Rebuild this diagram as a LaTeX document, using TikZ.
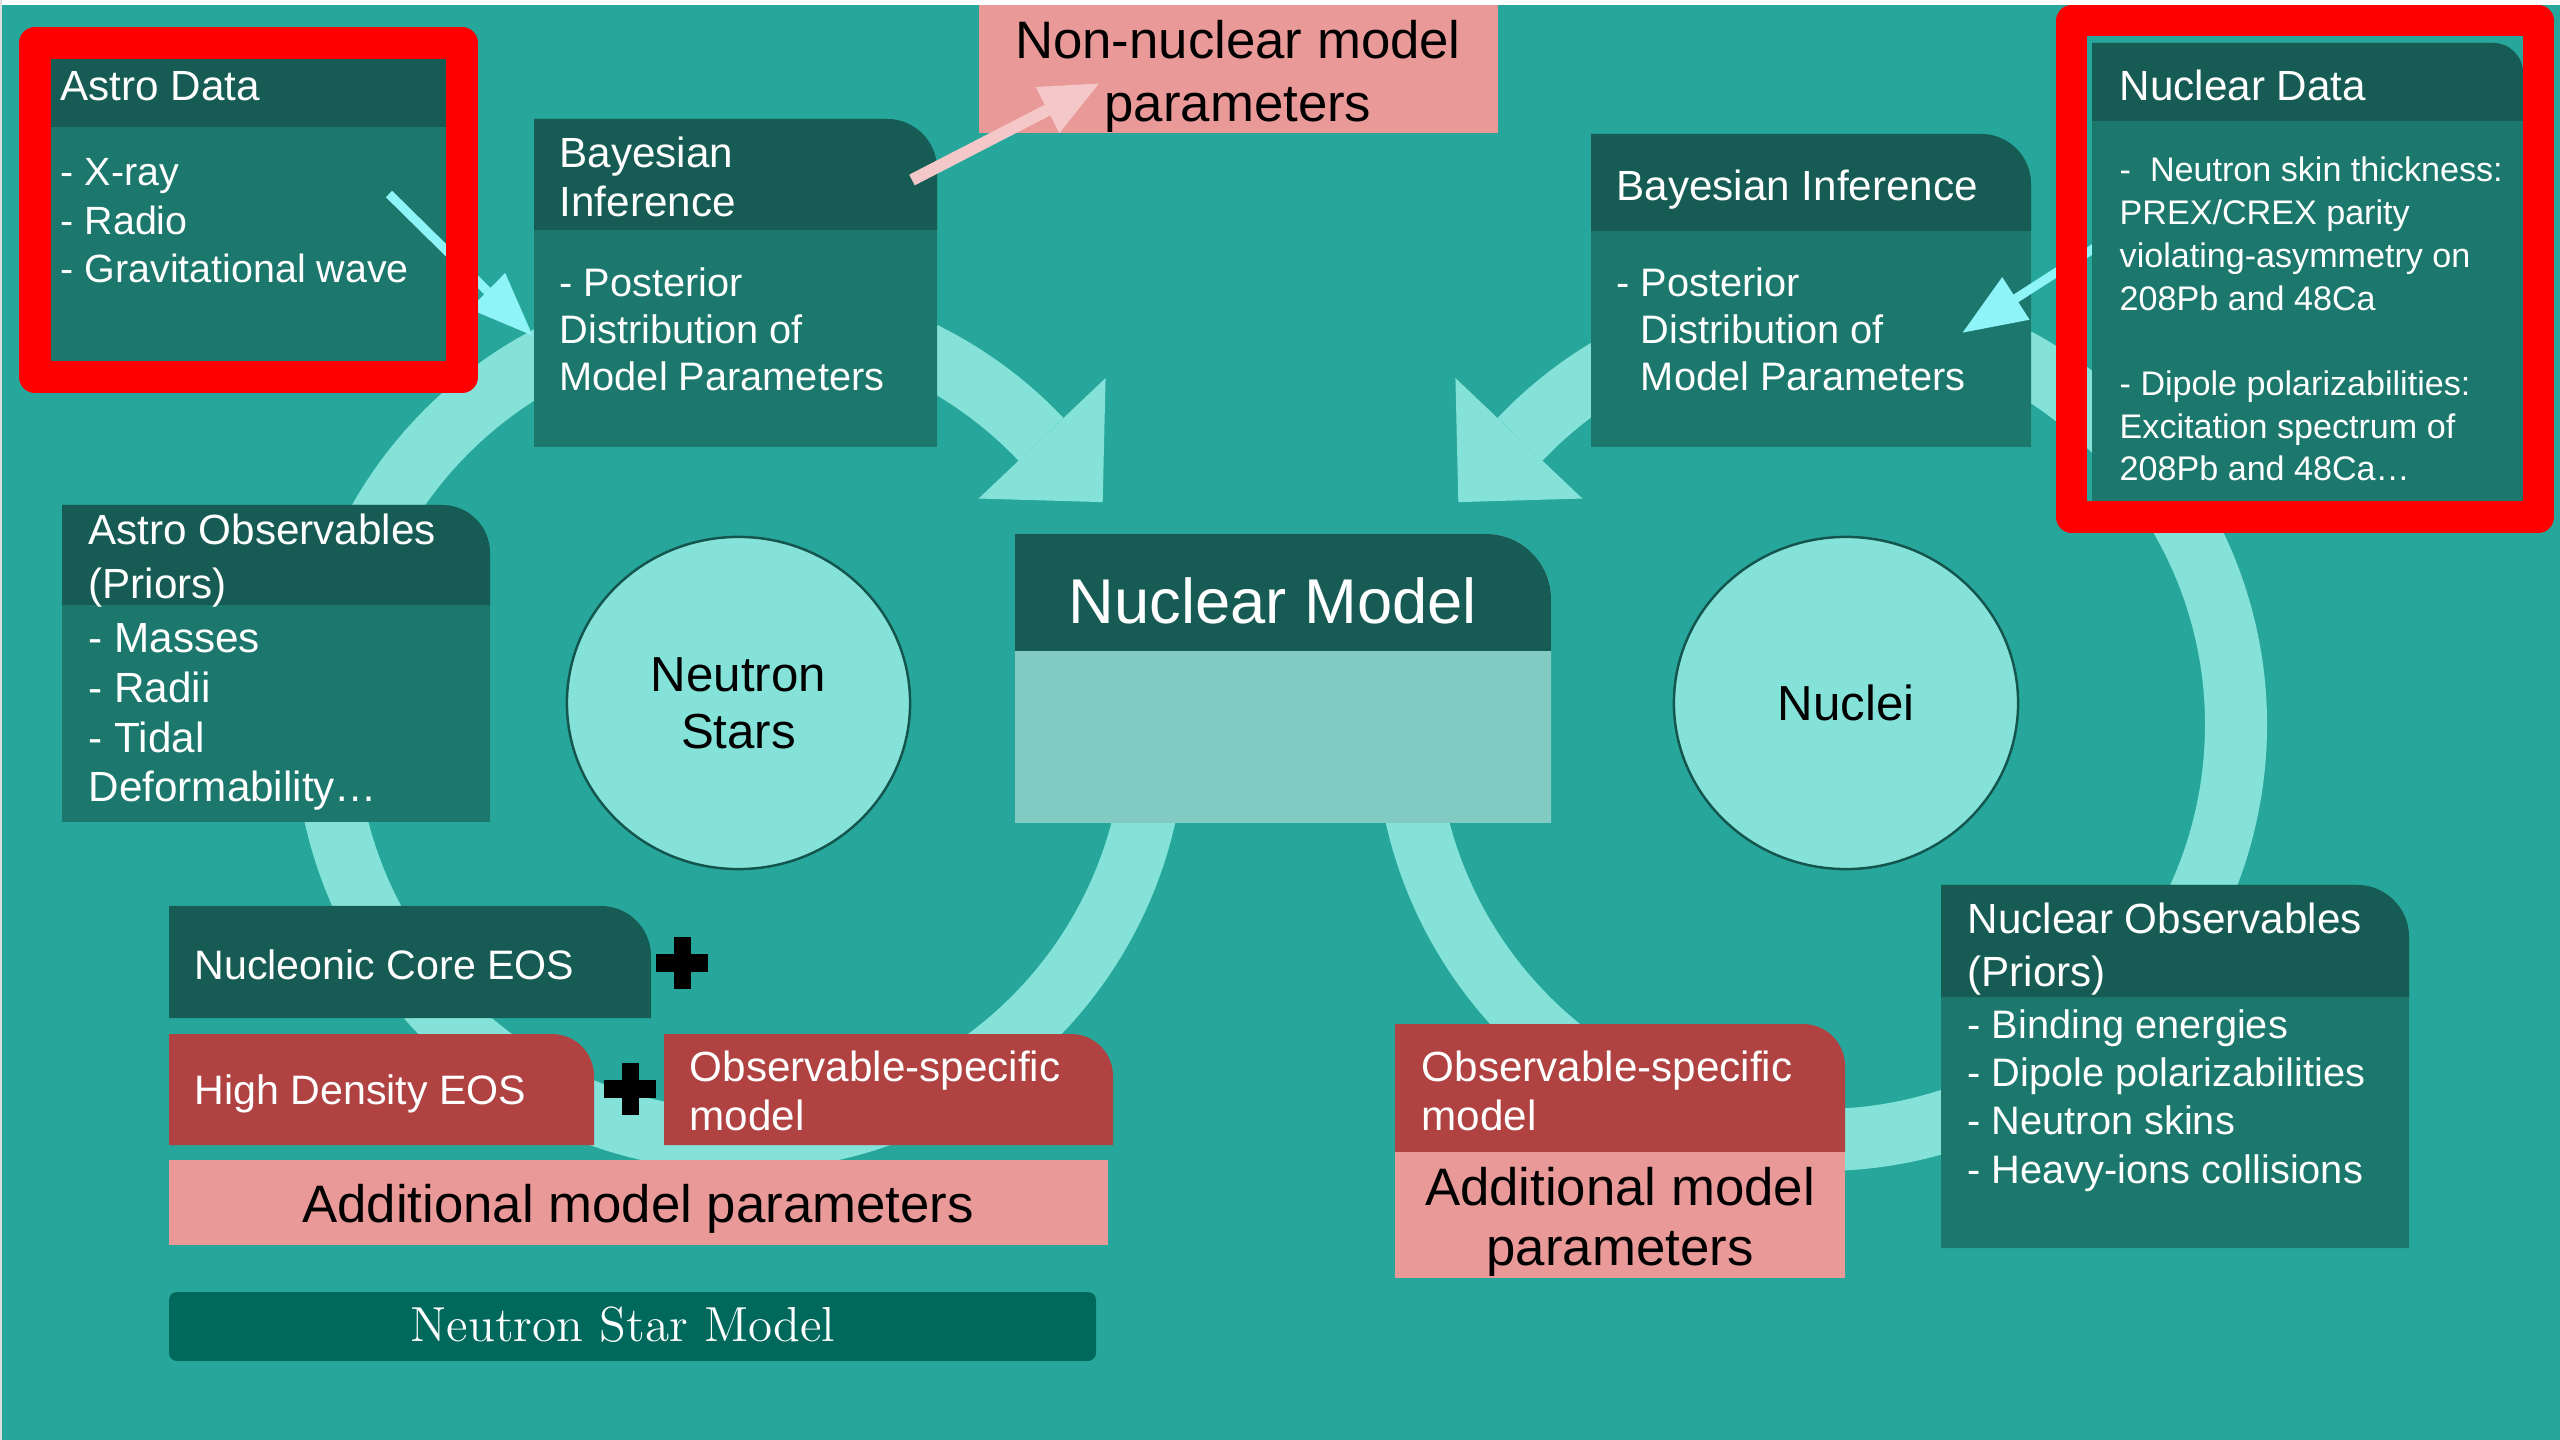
\documentclass[tikz,border=0pt]{standalone}
\usepackage{fontspec}
\newfontfamily\sansfont{Liberation Sans}
\usepackage{tikz}
\usetikzlibrary{shapes.geometric,calc,arrows.meta}

\definecolor{bgteal}{RGB}{39,167,155}
\definecolor{hdrc}{RGB}{23,92,84}
\definecolor{bodyc}{RGB}{28,120,109}
\definecolor{ringc}{RGB}{132,226,216}
\definecolor{nmbody}{RGB}{130,203,195}
\definecolor{pinkc}{RGB}{234,153,153}
\definecolor{redbox}{RGB}{176,66,66}
\definecolor{nsbar}{RGB}{0,105,92}
\definecolor{cyanarr}{RGB}{142,244,248}
\definecolor{pinkarr}{RGB}{244,200,200}
\definecolor{circb}{RGB}{20,85,78}

% font size and line skip (pt)
\newcommand{\fnt}[2]{\sansfont\fontsize{#1}{#2}\selectfont}
% box with one rounded corner (top right): x1,y1,x2,y2,radius,colour
\newcommand{\tabbox}[6]{%
  \fill[#6] (#1,#4) -- (#1,#2) [rounded corners=#5] -- (#3,#2) [sharp corners] -- (#3,#4) -- cycle;}

\begin{document}
\begin{tikzpicture}[x=0.01cm,y=-0.01cm,
    ring/.style={draw=ringc,line width=0.62cm},
    wtxt/.style={text=white,anchor=base west,align=left,inner sep=0pt},
    btxt/.style={text=black,anchor=base,align=center,inner sep=0pt},
    redframe/.style={draw=red,line join=round},
    plus/.style={draw=black,line width=0.17cm},
    datarrow/.style={draw=cyanarr,line width=0.09cm,-{Triangle[length=0.64cm,width=0.48cm]}}]

	% background
	\useasboundingbox (0,0) rectangle (2560,1440);
	\fill[bgteal] (0,0) rectangle (2560,1440);
	\fill[white] (0,0) rectangle (2560,5);
	\fill[gray!25] (0,0) rectangle (2,1440);

	% left cycle
	\coordinate (lc) at (740,725);
	\draw[ring] ($(lc)+(-5:415)$) arc[start angle=-5,end angle=316.5,radius=415];
	\fill[ringc] ($(lc)+(316.5:329)$) -- ($(lc)+(316.5:504)$) -- ($(lc)+(316.5:416.5)+(46.5:88)$) -- cycle;

	% right cycle
	\coordinate (rc) at (1821,725);
	\draw[ring] ($(rc)+(185:415)$) arc[start angle=185,end angle=-136.5,radius=415];
	\fill[ringc] ($(rc)+(223.5:329)$) -- ($(rc)+(223.5:504)$) -- ($(rc)+(223.5:416.5)+(133.5:88)$) -- cycle;

	% neutron stars and nuclei
	\node[ellipse,minimum width=3.43cm,minimum height=3.32cm,fill=ringc,draw=circb,line width=0.7pt,
		align=center,font=\fnt{14}{16.2}] (ns) at (738.5,703) {Neutron\\Stars};
	\node[ellipse,minimum width=3.44cm,minimum height=3.32cm,fill=ringc,draw=circb,line width=0.7pt,
		font=\fnt{14}{16.2}] (nuclei) at (1846,703) {Nuclei};

	% bayesian inference, left (text anchored on its last line)
	\tabbox{534}{119}{937}{447}{0.5cm}{bodyc}
	\tabbox{534}{119}{937}{230}{0.5cm}{hdrc}
	\node[wtxt,font=\fnt{12}{14.2}] (bayesL-head) at (559,217) {Bayesian\\Inference};
	\node[wtxt,font=\fnt{11.3}{13.5}] (bayesL-body) at (559,391) {- Posterior\\Distribution of\\Model Parameters};

	% bayesian inference, right
	\tabbox{1591}{134}{2031}{447}{0.5cm}{bodyc}
	\tabbox{1591}{134}{2031}{231}{0.5cm}{hdrc}
	\node[wtxt,font=\fnt{12}{14.2}] (bayesR-head) at (1616,201) {Bayesian Inference};
	\node[wtxt,font=\fnt{11.3}{13.5}] (bayesR-body) at (1616,391)
		{- Posterior\\\hphantom{- }Distribution of\\\hphantom{- }Model Parameters};

	% non-nuclear parameters
	\fill[pinkc] (979,5) rectangle (1498,133);
	\node[btxt,font=\fnt{15}{18}] (nonnuc) at (1238,122) {Non-nuclear model\\parameters};

	% nuclear model
	\tabbox{1015}{534}{1551}{823}{0.65cm}{nmbody}
	\tabbox{1015}{534}{1551}{651}{0.65cm}{hdrc}
	\node[btxt,text=white,font=\fnt{18}{21}] (numodel) at (1273,624) {Nuclear Model};

	% astro observables
	\tabbox{62}{505}{490}{822}{0.48cm}{bodyc}
	\tabbox{62}{505}{490}{605}{0.48cm}{hdrc}
	\node[wtxt,font=\fnt{12}{15.4}] (astroobs-head) at (88,599) {Astro Observables\\(Priors)};
	\node[wtxt,font=\fnt{12}{14.2}] (astroobs-body) at (88,802) {- Masses\\- Radii\\- Tidal\\Deformability…};

	% nuclear observables
	\tabbox{1941}{885}{2409}{1248}{0.52cm}{bodyc}
	\tabbox{1941}{885}{2409}{997}{0.52cm}{hdrc}
	\node[wtxt,font=\fnt{12}{14.8}] (nucobs-head) at (1967,986) {Nuclear Observables\\(Priors)};
	\node[wtxt,font=\fnt{11.3}{13.7}] (nucobs-body) at (1967,1183)
		{- Binding energies\\- Dipole polarizabilities\\- Neutron skins\\- Heavy-ions collisions};

	% neutron star model
	\tabbox{169}{906}{651}{1018}{0.5cm}{hdrc}
	\node[wtxt,font=\fnt{11.7}{14}] (core) at (194,979) {Nucleonic Core EOS};
	\tabbox{169}{1034}{594}{1145}{0.42cm}{redbox}
	\node[wtxt,font=\fnt{11.7}{14}] (highdens) at (194,1104) {High Density EOS};
	\tabbox{664}{1034}{1113}{1145}{0.42cm}{redbox}
	\node[wtxt,font=\fnt{12}{13.7}] (obsL) at (689,1130) {Observable-specific\\model};
	\fill[pinkc] (169,1160) rectangle (1108,1245);
	\node[btxt,font=\fnt{15}{18}] (addL) at (638,1222) {Additional model parameters};
	\fill[nsbar,rounded corners=0.08cm] (169,1292) rectangle (1096,1361);
	\node[btxt,text=white,font=\rmfamily\fontsize{14}{17}\selectfont] (nsmodel) at (623,1341) {Neutron Star Model};
	\draw[plus] (656,963) -- (708,963) (682,937) -- (682,989);
	\draw[plus] (604,1089) -- (656,1089) (630,1063) -- (630,1115);

	% nuclei model
	\tabbox{1395}{1024}{1845}{1152}{0.42cm}{redbox}
	\node[wtxt,font=\fnt{12}{13.7}] (obsR) at (1421,1130) {Observable-specific\\model};
	\fill[pinkc] (1395,1152) rectangle (1845,1278);
	\node[btxt,font=\fnt{15}{16.8}] (addR) at (1620,1265) {Additional model\\parameters};

	% astro data
	\fill[bodyc] (51,59) rectangle (446,361);
	\fill[hdrc] (51,59) rectangle (446,127);
	\node[wtxt,font=\fnt{12}{14}] (astro-head) at (60,101) {Astro Data};
	\node[wtxt,font=\fnt{11.2}{13.9}] (astro-body) at (60,283) {- X-ray\\- Radio\\- Gravitational wave};
	\coordinate (astro-out) at (389,194);
	\coordinate (bayesL-in) at (533,336);
	\draw[datarrow] (astro-out) -- (bayesL-in);

	% nuclear data
	\coordinate (nuc-out) at (2110,238);
	\coordinate (bayesR-in) at (1962,333);
	\draw[datarrow] (nuc-out) -- (bayesR-in);
	\tabbox{2092}{43}{2523}{502}{0.3cm}{bodyc}
	\tabbox{2092}{43}{2523}{121}{0.3cm}{hdrc}
	\node[wtxt,font=\fnt{12}{14}] (nuc-head) at (2119,101) {Nuclear Data};
	\node[wtxt,font=\fnt{9.7}{12.15}] (nuc-body) at (2119,481)
		{-\ \ Neutron skin thickness:\\PREX/CREX parity\\violating-asymmetry on\\208Pb and 48Ca\\[12.15pt]
		- Dipole polarizabilities:\\Excitation spectrum of\\208Pb and 48Ca…};

	% highlight frames
	\draw[redframe,line width=0.32cm] (35,43) rectangle (462,377);
	\draw[redframe,line width=0.31cm] (2071.5,21) rectangle (2538.5,517);

	% to non-nuclear parameters
	\coordinate (bayesL-out) at (912,180);
	\coordinate (nonnuc-in) at (1100,83);
	\draw[draw=pinkarr,line width=0.12cm,-{Triangle[length=0.59cm,width=0.48cm]}] (bayesL-out) -- (nonnuc-in);

\end{tikzpicture}
\end{document}
